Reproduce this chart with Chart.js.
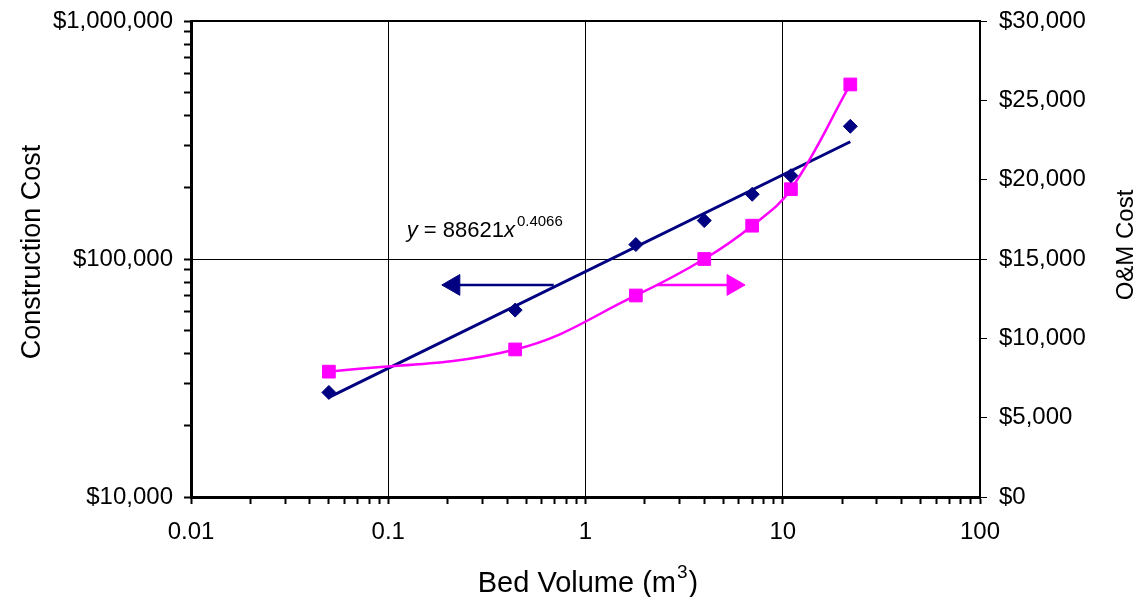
<!DOCTYPE html>
<html>
<head>
<meta charset="utf-8">
<title>Bed Volume vs Cost</title>
<script src="https://cdn.jsdelivr.net/npm/chart.js@4.4.1/dist/chart.umd.min.js"></script>
<style>
  html, body { margin: 0; padding: 0; background: #fff; }
  #wrap { width: 1143px; height: 597px; }
</style>
</head>
<body>
<div id="wrap"><canvas id="cost-chart"></canvas></div>
<script>
// bed volume (m3) of each unit
var bedVolume = [0.05, 0.44, 1.8, 4, 7, 11, 22];
// construction cost - left (log) axis
var constructionCost = [27500, 61000, 115000, 145000, 187000, 224000, 361000];
// O&M cost - right (linear) axis
var omCost = [7900, 9300, 12700, 15000, 17100, 19400, 26000];
// power trendline y = 88621x^0.4066, ends
var trendX = [0.05, 22];
var trendY = [26200, 311000];
// the two "which axis" arrows
var leftArrowX = [0.69, 0.215];
var rightArrowX = [2.3, 5.6];
var arrowY = [77800, 77800];

var xTickLabels = ['0.01', '0.1', '1', '10', '100'];
var leftTickLabels = ['$10,000', '$100,000', '$1,000,000'];
var rightTickLabels = ['$0', '$5,000', '$10,000', '$15,000', '$20,000', '$25,000', '$30,000'];

var NAVY = '#000080';
var PINK = '#FF00FF';
var FONT = '"Liberation Sans", Arial, sans-serif';

function pairs(xs, ys) {
  return xs.map(function(x, i) { return { x: x, y: ys[i] }; });
}

function isDecade(v) {
  var l = Math.log10(v);
  return Math.abs(l - Math.round(l)) < 1e-6;
}

// 1..9 x 10^n ticks between two decades
function logTicks(fromExp, toExp) {
  var out = [];
  for (var e = fromExp; e < toExp; e++) {
    for (var m = 1; m < 10; m++) out.push({ value: Number((m * Math.pow(10, e)).toPrecision(3)) });
  }
  out.push({ value: Math.pow(10, toExp) });
  return out;
}

// fixed box size for a vertical axis, without the label overhang padding
function fixWidth(w) {
  return function(scale) {
    scale.width = w;
    scale.paddingTop = 10;
    scale.paddingBottom = 10;
  };
}

function vText(ctx, text, x, y, size) {
  ctx.save();
  ctx.translate(x, y);
  ctx.rotate(-Math.PI / 2);
  ctx.textAlign = 'center';
  ctx.textBaseline = 'middle';
  ctx.font = size + 'px ' + FONT;
  ctx.fillText(text, 0, 0);
  ctx.restore();
}

var extras = {
  id: 'extras',
  beforeDatasetsDraw: function(chart) {
    var ctx = chart.ctx, a = chart.chartArea;
    ctx.save();
    ctx.strokeStyle = '#000';
    ctx.lineWidth = 2;
    ctx.beginPath();
    ctx.moveTo(a.left, a.top);
    ctx.lineTo(a.right, a.top);
    ctx.stroke();
    ctx.restore();
  },
  afterDraw: function(chart) {
    var ctx = chart.ctx;
    var xs = chart.scales.x, yl = chart.scales.y;
    ctx.save();
    ctx.fillStyle = '#000';
    ctx.textBaseline = 'alphabetic';
    ctx.textAlign = 'left';
    // trendline equation
    var px = xs.getPixelForValue(0.124), py = yl.getPixelForValue(124000);
    ctx.font = 'italic 22px ' + FONT;
    ctx.fillText('y', px, py);
    px += ctx.measureText('y').width;
    ctx.font = '22px ' + FONT;
    ctx.fillText(' = 88621', px, py);
    px += ctx.measureText(' = 88621').width;
    ctx.font = 'italic 22px ' + FONT;
    ctx.fillText('x', px, py);
    px += ctx.measureText('x').width + 2;
    ctx.font = '15px ' + FONT;
    ctx.fillText('0.4066', px, py - 11);

    // x axis title with a real superscript
    ctx.font = '29px ' + FONT;
    var w1 = ctx.measureText('Bed Volume (m').width;
    var w3 = ctx.measureText(')').width;
    ctx.font = '19px ' + FONT;
    var w2 = ctx.measureText('3').width + 2;
    var tx = 588 - (w1 + w2 + w3) / 2, ty = 592;
    ctx.font = '29px ' + FONT;
    ctx.fillText('Bed Volume (m', tx, ty);
    ctx.fillText(')', tx + w1 + w2, ty);
    ctx.font = '19px ' + FONT;
    ctx.fillText('3', tx + w1 + 1, ty - 14);
    ctx.restore();

    // both y titles read bottom to top
    ctx.fillStyle = '#000';
    vText(ctx, 'Construction Cost', 33, 252, 27);
    vText(ctx, 'O&M Cost', 1126, 245, 24);
  }
};

new Chart(document.getElementById('cost-chart'), {
  type: 'line',
  data: {
    datasets: [{
      label: 'Construction Cost',
      data: pairs(bedVolume, constructionCost),
      showLine: false,
      pointStyle: 'rectRot',
      pointRadius: 7,
      pointBackgroundColor: NAVY,
      pointBorderColor: NAVY,
      pointBorderWidth: 1,
      yAxisID: 'y',
      order: 0
    }, {
      label: 'O&M Cost',
      data: pairs(bedVolume, omCost),
      showLine: true,
      tension: 0.4,
      borderColor: PINK,
      borderWidth: 2.5,
      pointStyle: 'rect',
      pointRadius: 9,
      pointBackgroundColor: PINK,
      pointBorderColor: PINK,
      pointBorderWidth: 1,
      yAxisID: 'yR',
      order: 1
    }, {
      label: 'Power trend',
      data: pairs(trendX, trendY),
      showLine: true,
      borderColor: NAVY,
      borderWidth: 3,
      pointRadius: 0,
      yAxisID: 'y',
      order: 2
    }, {
      label: 'left arrow',
      data: pairs(leftArrowX, arrowY),
      showLine: true,
      borderColor: NAVY,
      borderWidth: 2.5,
      pointStyle: 'triangle',
      pointRadius: [0, 12],
      pointRotation: [0, -90],
      pointBackgroundColor: NAVY,
      pointBorderColor: NAVY,
      pointBorderWidth: 1,
      yAxisID: 'y',
      order: 3
    }, {
      label: 'right arrow',
      data: pairs(rightArrowX, arrowY),
      showLine: true,
      borderColor: PINK,
      borderWidth: 2.5,
      pointStyle: 'triangle',
      pointRadius: [0, 12],
      pointRotation: [0, 90],
      pointBackgroundColor: PINK,
      pointBorderColor: PINK,
      pointBorderWidth: 1,
      yAxisID: 'y',
      order: 3
    }]
  },
  options: {
    responsive: true,
    maintainAspectRatio: false,
    animation: false,
    layout: { padding: { top: 21, left: 0, right: 0, bottom: 0 } },
    plugins: {
      legend: { display: false },
      tooltip: { enabled: false }
    },
    scales: {
      x: {
        type: 'logarithmic',
        position: 'bottom',
        min: 0.01,
        max: 100,
        afterBuildTicks: function(scale) { scale.ticks = logTicks(-2, 2); },
        afterFit: function(scale) { scale.height = 100; },
        border: { display: true, color: '#000', width: 3 },
        grid: {
          color: function(c) { return c.tick && isDecade(c.tick.value) ? '#000' : 'rgba(0,0,0,0)'; },
          lineWidth: 1,
          tickColor: '#000',
          tickWidth: 2,
          tickLength: 7
        },
        ticks: {
          autoSkip: false,
          maxRotation: 0,
          color: '#000',
          padding: 14,
          font: { family: FONT, size: 24 },
          callback: function(v) {
            return isDecade(v) ? xTickLabels[Math.round(Math.log10(v)) + 2] : '';
          }
        }
      },
      y: {
        type: 'logarithmic',
        position: 'left',
        min: 10000,
        max: 1000000,
        afterBuildTicks: function(scale) { scale.ticks = logTicks(4, 6); },
        afterFit: fixWidth(191),
        border: { display: true, color: '#000', width: 3 },
        grid: {
          color: function(c) { return c.tick && c.tick.value === 100000 ? '#000' : 'rgba(0,0,0,0)'; },
          lineWidth: 1,
          tickColor: '#000',
          tickWidth: 2,
          tickLength: 7
        },
        ticks: {
          autoSkip: false,
          color: '#000',
          padding: 11,
          font: { family: FONT, size: 24 },
          callback: function(v) {
            return isDecade(v) ? leftTickLabels[Math.round(Math.log10(v)) - 4] : '';
          }
        }
      },
      yR: {
        type: 'linear',
        position: 'right',
        min: 0,
        max: 30000,
        afterBuildTicks: function(scale) {
          scale.ticks = rightTickLabels.map(function(t, i) { return { value: i * 5000 }; });
        },
        afterFit: fixWidth(163),
        border: { display: true, color: '#000', width: 2 },
        grid: {
          drawOnChartArea: false,
          tickColor: '#000',
          tickWidth: 1,
          tickLength: 7
        },
        ticks: {
          autoSkip: false,
          color: '#000',
          padding: 12,
          font: { family: FONT, size: 24 },
          callback: function(v) { return rightTickLabels[Math.round(v / 5000)]; }
        }
      }
    }
  },
  plugins: [extras]
});
</script>
</body>
</html>
